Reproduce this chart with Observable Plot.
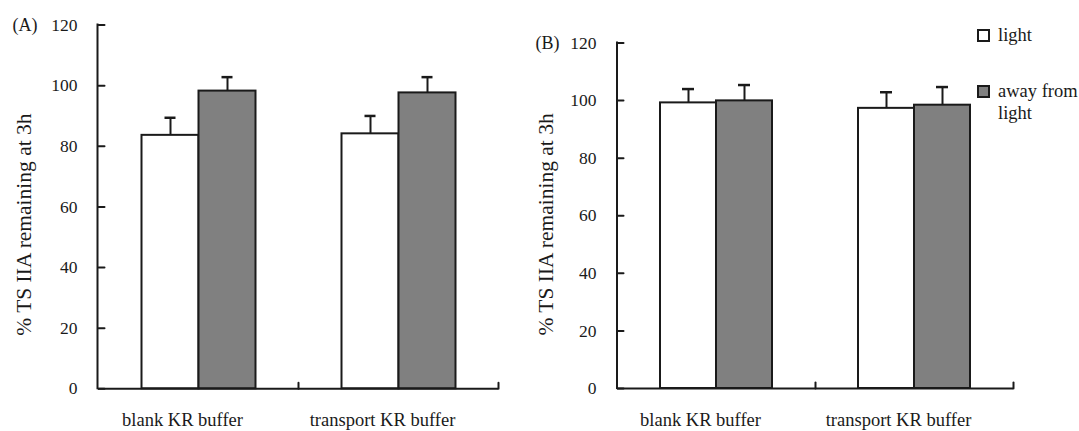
<!DOCTYPE html>
<html>
<head>
<meta charset="utf-8">
<script src="https://cdn.jsdelivr.net/npm/d3@7"></script>
<script src="https://cdn.jsdelivr.net/npm/@observablehq/plot@0.6"></script>
<style>
  html, body { margin: 0; padding: 0; background: #ffffff; }
  #chart { position: relative; width: 1079px; height: 431px; overflow: hidden;
           font-family: "Liberation Serif", "Times New Roman", serif; color: #1a1a1a; }
  #chart svg { position: absolute; top: 0; }
  .legend { position: absolute; left: 977px; top: 24px; }
  .legend .item { display: flex; align-items: flex-start; margin-bottom: 34px; }
  .legend .swatch { width: 9px; height: 9px; border: 2px solid #1a1a1a; margin-top: 5px; margin-right: 8px; flex: none; }
  .legend .label { width: 82px; font-size: 18.5px; line-height: 22px; }
</style>
</head>
<body>
<div id="chart"></div>
<script>
// Groups on the x axis and the two exposure conditions
const buffers = ["blank KR buffer", "transport KR buffer"];
const conditions = ["light", "away from light"];
const conditionFills = ["#ffffff", "#808080"];
const yTicks = [0, 20, 40, 60, 80, 100, 120];
const yTitle = "% TS IIA remaining at 3h";
const panelTags = ["(A)", "(B)"];

// Panel A: mean and SD, one value per buffer
const aLightMean = [83.6, 84.1];
const aLightSD = [5.8, 5.9];
const aDarkMean = [98.2, 97.6];
const aDarkSD = [4.6, 5.2];

// Panel B: mean and SD, one value per buffer
const bLightMean = [99.2, 97.3];
const bLightSD = [4.8, 5.6];
const bDarkMean = [99.9, 98.4];
const bDarkSD = [5.5, 6.3];

const ink = "#1a1a1a";

function tidy(lightMean, lightSD, darkMean, darkSD) {
  return buffers.flatMap((buffer, i) => [
    {buffer, condition: conditions[0], mean: lightMean[i], sd: lightSD[i]},
    {buffer, condition: conditions[1], mean: darkMean[i], sd: darkSD[i]}
  ]);
}

// plain straight stroke used for the inward axis ticks
const tickShape = {draw(context, l) { context.moveTo(0, 0); context.lineTo(0, -l); }};

function panel({tag, data, width, marginLeft, marginRight, marginTop, marginBottom,
                groupPadding, capInset, titleDx, titleDy, tagDx}) {
  const svg = Plot.plot({
    width, height: 431, marginLeft, marginRight, marginTop, marginBottom,
    style: {fontFamily: "'Liberation Serif', 'Times New Roman', serif", color: ink, background: "transparent", overflow: "visible"},
    fx: {domain: buffers, padding: 0},
    x: {domain: conditions, paddingInner: 0, paddingOuter: groupPadding, axis: null},
    y: {domain: [0, 120], axis: null},
    color: {domain: conditions, range: conditionFills},
    marks: [
      Plot.barY(data, {fx: "buffer", x: "condition", y: "mean", fill: "condition", stroke: ink, strokeWidth: 2}),
      Plot.ruleX(data, {fx: "buffer", x: "condition", y1: "mean", y2: d => d.mean + d.sd, stroke: ink, strokeWidth: 2}),
      Plot.tickY(data, {fx: "buffer", x: "condition", y: d => d.mean + d.sd, stroke: ink, strokeWidth: 2.5, insetLeft: capInset, insetRight: capInset}),
      Plot.ruleY([0], {stroke: ink, strokeWidth: 2}),
      // short upward ticks closing each group on the baseline
      Plot.vector([0], {y: d => d, frameAnchor: "right", rotate: 0, length: 6, anchor: "start", shape: tickShape, stroke: ink, strokeWidth: 2}),
      // y axis: inward ticks and their labels, left group only
      Plot.vector(yTicks, {y: d => d, frameAnchor: "left", rotate: 90, length: 6, anchor: "start", shape: tickShape, stroke: ink, strokeWidth: 2, facetAnchor: "left"}),
      Plot.text(yTicks, {y: d => d, text: d => String(d), frameAnchor: "left", dx: -21, textAnchor: "end", lineAnchor: "middle", fontSize: 17.5, fill: ink, facetAnchor: "left"}),
      Plot.axisFx({anchor: "bottom", tickSize: 0, tickPadding: 24, fontSize: 18.5, label: null, dx: -16}),
      Plot.text([yTitle], {frameAnchor: "left", textAnchor: "middle", rotate: -90, dx: titleDx, dy: titleDy, fontSize: 21.5, fill: ink, facetAnchor: "left"}),
      Plot.text([tag], {frameAnchor: "top-left", dx: tagDx, textAnchor: "start", lineAnchor: "middle", fontSize: 18, fill: ink, facetAnchor: "left"})
    ]
  });
  // vertical axis line along the left edge, spanning the y scale's range
  const [yBottom, yTop] = svg.scale("y").range;
  d3.select(svg).append("line")
    .attr("x1", marginLeft).attr("x2", marginLeft)
    .attr("y1", yBottom).attr("y2", yTop)
    .attr("stroke", ink).attr("stroke-width", 2).attr("stroke-linecap", "square");
  return svg;
}

const chart = document.getElementById("chart");

const panelA = panel({
  tag: panelTags[0], data: tidy(aLightMean, aLightSD, aDarkMean, aDarkSD),
  width: 520, marginLeft: 97.5, marginRight: 21, marginTop: 24.5, marginBottom: 42.7,
  groupPadding: 0.73, capInset: 23, titleDx: -74, titleDy: 17.7, tagDx: -86
});
panelA.style.left = "0px";
chart.appendChild(panelA);

const panelB = panel({
  tag: panelTags[1], data: tidy(bLightMean, bLightSD, bDarkMean, bDarkSD),
  width: 559, marginLeft: 97, marginRight: 66, marginTop: 42.5, marginBottom: 43,
  groupPadding: 0.75, capInset: 22, titleDx: -71, titleDy: 8.7, tagDx: -82
});
panelB.style.left = "520px";
chart.appendChild(panelB);

// legend for the two conditions
const legend = d3.select(chart).append("div").attr("class", "legend");
const items = legend.selectAll(".item").data(conditions).join("div").attr("class", "item");
items.append("div").attr("class", "swatch").style("background", (d, i) => conditionFills[i]);
items.append("div").attr("class", "label").text(d => d);
</script>
</body>
</html>
